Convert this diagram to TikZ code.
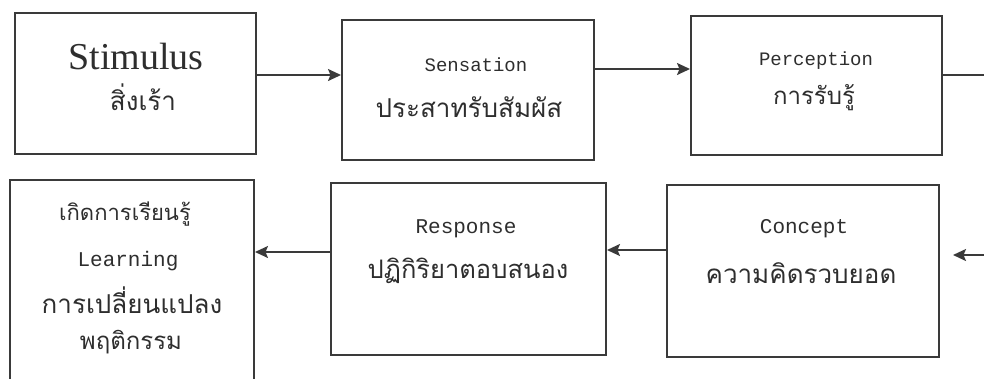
\documentclass[tikz,border=0pt]{standalone}
\usepackage{fontspec}
\usetikzlibrary{arrows.meta}
\newfontfamily\thaif[Script=Thai]{Loma}
\newfontfamily\monof{Liberation Mono}
\newfontfamily\serf{Liberation Serif}
\definecolor{ln}{HTML}{3A3A3A}
\definecolor{tx}{HTML}{2E2E2E}
\tikzset{
  box/.style={draw=ln, line width=2pt, minimum width=#1, inner sep=0pt},
  en/.style={font=\monof\fontsize{#1}{22}\selectfont, text=tx, inner sep=0pt},
  en/.default=20,
  th/.style={font=\thaif\fontsize{#1}{28}\selectfont, text=tx, inner sep=0pt},
  th/.default=26,
  arr/.style={draw=ln, line width=1.8pt, -{Stealth[length=13pt,width=12pt,inset=2.5pt]}},
}
\begin{document}
\begin{tikzpicture}[x=1pt,y=1pt]
\useasboundingbox (0,0) rectangle (984,-378);
\clip (0,0) rectangle (984,-378);
% boxes
\node[box=241pt, minimum height=141pt] (b1) at (135.5,-83.5) {};
\node[box=252pt, minimum height=140pt] (b2) at (468,-90) {};
\node[box=251pt, minimum height=139pt] (b3) at (816.5,-85.5) {};
\node[box=244pt, minimum height=220pt] (b4) at (132,-290) {};
\node[box=275pt, minimum height=172pt] (b5) at (468.5,-269) {};
\node[box=272pt, minimum height=172pt] (b6) at (803,-271) {};
% texts
\node[font=\serf\fontsize{38}{42}\selectfont, text=tx, inner sep=0pt] (t1a) at (136,-56) {Stimulus};
\node[th] (t1b) at (143,-97) {สิ่งเร้า};
\node[en=19] (t2a) at (476,-65) {Sensation};
\node[th] (t2b) at (469,-107) {ประสาทรับสัมผัส};
\node[en=19] (t3a) at (816,-61) {Perception};
\node[th=24] (t3b) at (814,-98) {การรับรู้};
\node[th=22] (t4a) at (125,-214) {เกิดการเรียนรู้};
\node[en=21] (t4b) at (128,-261) {Learning};
\node[th] (t4c) at (132,-300) {การเปลี่ยนแปลง};
\node[th=24] (t4d) at (131,-342) {พฤติกรรม};
\node[en=21] (t5a) at (466,-229) {Response};
\node[th=25.5] (t5b) at (468,-271) {ปฏิกิริยาตอบสนอง};
\node[en=21] (t6a) at (804,-229) {Concept};
\node[th] (t6b) at (801,-273) {ความคิดรวบยอด};
% connectors
\coordinate (r1) at (984,-75);
\coordinate (r2) at (984,-255);
\draw[arr] (b1.east |- 0,-75) -- (b2.west |- 0,-75);
\draw[arr] (b2.east |- 0,-69) -- (b3.west |- 0,-69);
\draw[draw=ln, line width=1.8pt] (b3.east |- r1) -- (r1);
\draw[arr] (r2) -- ([xshift=13pt]b6.east |- r2);
\draw[arr] (b6.west |- 0,-250) -- (b5.east |- 0,-250);
\draw[arr] (b5.west |- 0,-252) -- (b4.east |- 0,-252);
\end{tikzpicture}
\end{document}
